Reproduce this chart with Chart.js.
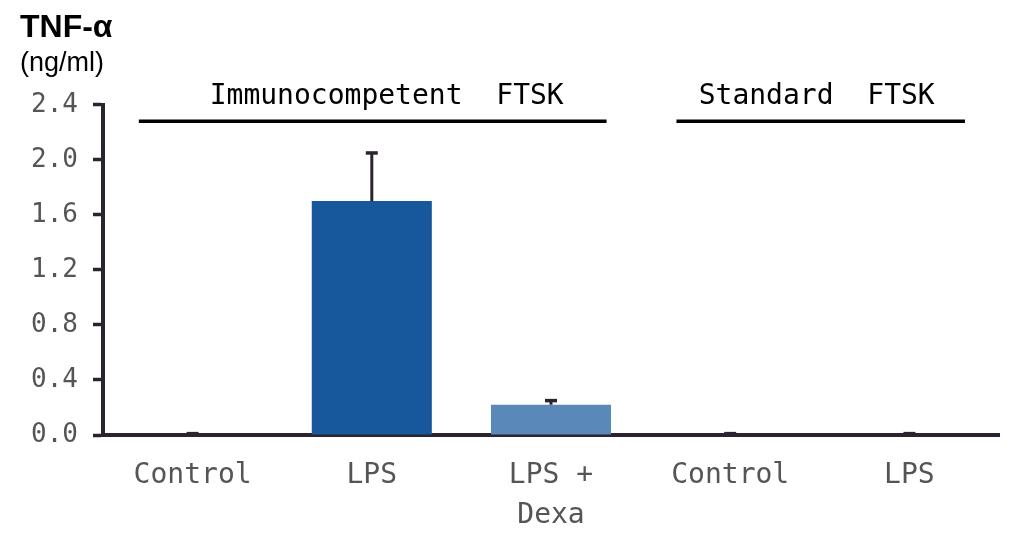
<!DOCTYPE html>
<html>
<head>
<meta charset="utf-8">
<script src="https://cdn.jsdelivr.net/npm/chart.js@4.4.1/dist/chart.umd.min.js"></script>
<style>
  html, body { margin: 0; padding: 0; background: #fff; }
  #wrap { width: 1030px; height: 548px; }
</style>
</head>
<body>
<div id="wrap"><canvas id="tnfChart"></canvas></div>
<script>
// TNF-alpha release (ng/ml)
const categories = [['Control'], ['LPS'], ['LPS +', 'Dexa'], ['Control'], ['LPS']]
const tnfValues = [0, 1.70, 0.22, 0, 0]
const tnfErrors = [0.01, 0.35, 0.03, 0.01, 0.01]
const yTicks = [0, 0.4, 0.8, 1.2, 1.6, 2.0, 2.4]
const groupLabels = ['Immunocompetent  FTSK', 'Standard  FTSK']
const groupFirst = [0, 3]
const groupLast = [2, 4]

const axisColor = '#2b2430'
const monoFont = "'DejaVu Sans Mono', 'Liberation Mono', monospace"

const errorBars = {
    id: 'errorBars',
    afterDatasetsDraw(chart) {
        const ctx = chart.ctx
        const yScale = chart.scales.y
        const meta = chart.getDatasetMeta(0)
        ctx.save()
        ctx.strokeStyle = axisColor
        meta.data.forEach((bar, i) => {
            const top = yScale.getPixelForValue(tnfValues[i] + tnfErrors[i])
            const base = yScale.getPixelForValue(tnfValues[i])
            ctx.lineWidth = 3
            ctx.beginPath()
            ctx.moveTo(bar.x, base)
            ctx.lineTo(bar.x, top)
            ctx.stroke()
            ctx.lineWidth = 3.5
            ctx.beginPath()
            ctx.moveTo(bar.x - 6, top)
            ctx.lineTo(bar.x + 6, top)
            ctx.stroke()
        })
        ctx.restore()
    }
}

const groupBrackets = {
    id: 'groupBrackets',
    afterDraw(chart) {
        const ctx = chart.ctx
        const xScale = chart.scales.x
        const area = chart.chartArea
        const step = xScale.getPixelForValue(1) - xScale.getPixelForValue(0)
        ctx.save()
        groupLabels.forEach((label, g) => {
            const x1 = xScale.getPixelForValue(groupFirst[g]) - 0.3 * step
            const x2 = xScale.getPixelForValue(groupLast[g]) + 0.31 * step
            const yLine = area.top + 16.5
            ctx.strokeStyle = '#000'
            ctx.lineWidth = 3.5
            ctx.beginPath()
            ctx.moveTo(x1, yLine)
            ctx.lineTo(x2, yLine)
            ctx.stroke()
            ctx.fillStyle = '#000'
            ctx.font = '28px ' + monoFont
            ctx.textAlign = 'center'
            ctx.textBaseline = 'alphabetic'
            ctx.fillText(label, (x1 + x2) / 2 + (g == 0 ? 14 : -4), area.top - 1)
        })
        ctx.restore()
    }
}

new Chart(document.getElementById('tnfChart'), {
    type: 'bar',
    data: {
        labels: categories,
        datasets: [{
            data: tnfValues,
            backgroundColor: ['#17579b', '#17579b', '#5a89b9', '#17579b', '#17579b'],
            borderWidth: 0,
            categoryPercentage: 1,
            barPercentage: 0.67
        }]
    },
    options: {
        responsive: true,
        maintainAspectRatio: false,
        animation: false,
        layout: { padding: { left: 20, right: 31, top: 0, bottom: 0 } },
        plugins: {
            legend: { display: false },
            tooltip: { enabled: false },
            title: {
                display: true,
                text: 'TNF-α',
                align: 'start',
                color: '#000',
                font: { family: "'Liberation Sans', Arial, sans-serif", size: 32, weight: 'bold' },
                padding: { top: 9, bottom: 0 }
            },
            subtitle: {
                display: true,
                text: '(ng/ml)',
                align: 'start',
                color: '#000',
                font: { family: "'Liberation Sans', Arial, sans-serif", size: 27 },
                padding: { top: 0, bottom: 25 }
            }
        },
        scales: {
            x: {
                afterFit: (scale) => { scale.height = 113 },
                grid: { display: false, drawTicks: false },
                border: { display: true, color: axisColor, width: 4 },
                ticks: {
                    color: '#555',
                    padding: 21,
                    maxRotation: 0,
                    autoSkip: false,
                    font: { family: monoFont, size: 28, lineHeight: 1.43 }
                }
            },
            y: {
                min: yTicks[0],
                max: yTicks[yTicks.length - 1],
                afterFit: (scale) => { scale.width = 83 },
                afterBuildTicks: (scale) => { scale.ticks = yTicks.map(v => ({ value: v })) },
                grid: {
                    drawOnChartArea: false,
                    drawTicks: true,
                    tickLength: 10,
                    tickWidth: 3.5,
                    tickColor: axisColor
                },
                border: { display: true, color: axisColor, width: 4 },
                ticks: {
                    color: '#555',
                    padding: 15,
                    font: { family: monoFont, size: 26 },
                    callback: (v) => v.toFixed(1)
                }
            }
        }
    },
    plugins: [errorBars, groupBrackets]
})
</script>
</body>
</html>
